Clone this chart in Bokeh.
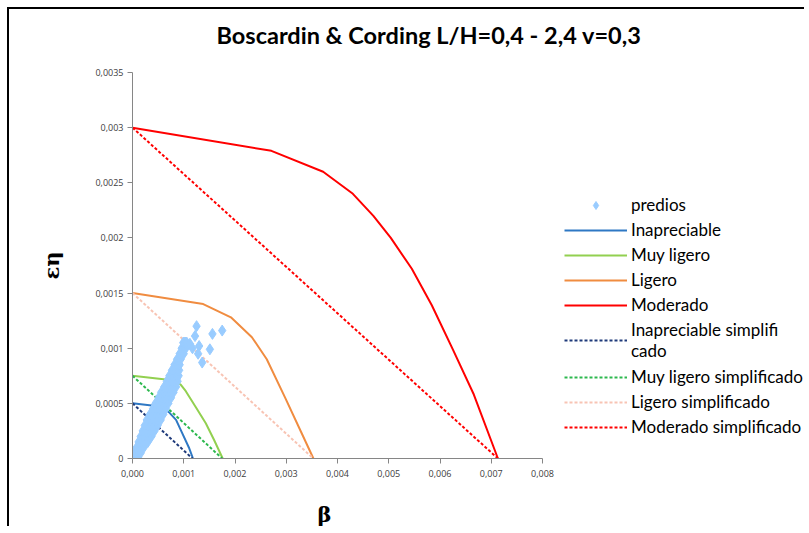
from bokeh.plotting import figure
from bokeh.models import Range1d, FixedTicker, Legend, LegendItem, Title
from bokeh.embed import file_html
from bokeh.resources import INLINE

title_text = "Boscardin & Cording L/H=0,4 - 2,4  v=0,3"
x_label = "β"
y_label = "εη"

x_ticks = [0.0, 0.001, 0.002, 0.003, 0.004, 0.005, 0.006, 0.007, 0.008]
x_tick_labels = ["0,000", "0,001", "0,002", "0,003", "0,004", "0,005", "0,006", "0,007", "0,008"]
y_ticks = [0.0, 0.0005, 0.001, 0.0015, 0.002, 0.0025, 0.003, 0.0035]
y_tick_labels = ["0", "0,0005", "0,001", "0,0015", "0,002", "0,0025", "0,003", "0,0035"]

# predios (values in units of 1e-5)
predios_x_e5 = [
    2, 5, 7, 10, 12,
    3, 6, 10, 13, 16,
    8, 12, 15, 19, 22,
    12, 17, 21, 26, 30,
    16, 21, 27, 32, 37,
    20, 26, 32, 37, 43,
    24, 30, 37, 43, 49,
    28, 35, 42, 48, 55,
    34, 41, 47, 54, 60,
    40, 46, 53, 59, 65,
    45, 51, 58, 64, 70,
    51, 57, 63, 69, 75,
    56, 62, 68, 74, 80,
    62, 68, 74, 79, 85,
    67, 72, 78, 83, 88,
    72, 77, 81, 86, 90,
    77, 81, 84, 88, 91,
    82, 85, 87, 90, 92,
    87, 89, 91, 92, 94,
    92, 94, 96, 98, 100,
    96, 98, 100, 102, 104,
    99, 101, 103, 104, 106,
    125, 122, 156, 175, 130, 151, 128, 136, 112, 117,
]
predios_y_e5 = [
    0, 0, 0, 0, 0,
    5, 5, 5, 5, 5,
    10, 10, 10, 10, 10,
    15, 15, 15, 15, 15,
    20, 20, 20, 20, 20,
    25, 25, 25, 25, 25,
    30, 30, 30, 30, 30,
    35, 35, 35, 35, 35,
    40, 40, 40, 40, 40,
    45, 45, 45, 45, 45,
    50, 50, 50, 50, 50,
    55, 55, 55, 55, 55,
    60, 60, 60, 60, 60,
    65, 65, 65, 65, 65,
    70, 70, 70, 70, 70,
    75, 75, 75, 75, 75,
    80, 80, 80, 80, 80,
    85, 85, 85, 85, 85,
    90, 90, 90, 90, 90,
    95, 95, 95, 95, 95,
    100, 100, 100, 100, 100,
    105, 105, 105, 105, 105,
    120, 111, 113, 116, 102, 99, 95, 87, 104, 100,
]

inap_x = [0.0, 0.00058, 0.00071, 0.00085, 0.00097, 0.0011, 0.00118]
inap_y = [0.0005, 0.00047, 0.00042, 0.00035, 0.00023, 0.0001, 0.0]

muy_x = [0.0, 0.00078, 0.00094, 0.00104, 0.00123, 0.00143, 0.00159, 0.00176]
muy_y = [0.00075, 0.00071, 0.00067, 0.00061, 0.00047, 0.00032, 0.00017, 0.0]

lig_x = [0.0, 0.00138, 0.00192, 0.00233, 0.00262, 0.00298, 0.00329, 0.00353]
lig_y = [0.0015, 0.0014, 0.00128, 0.0011, 0.0009, 0.00055, 0.00024, 0.0]

mod_x = [0.0, 0.00271, 0.00372, 0.0043, 0.0047, 0.00504, 0.00545, 0.00584, 0.00625, 0.00666, 0.00713]
mod_y = [0.003, 0.00279, 0.0026, 0.0024, 0.0022, 0.002, 0.00172, 0.00139, 0.00099, 0.00058, 0.0]

inap_s_x = [0.0, 0.00117]
inap_s_y = [0.0005, 0.0]
muy_s_x = [0.0, 0.00175]
muy_s_y = [0.00075, 0.0]
lig_s_x = [0.0, 0.00353]
lig_s_y = [0.0015, 0.0]
mod_s_x = [0.0, 0.00713]
mod_s_y = [0.003, 0.0]

legend_labels = ["predios", "Inapreciable", "Muy ligero", "Ligero", "Moderado",
                 "Inapreciable simplifi\ncado", "Muy ligero simplificado",
                 "Ligero simplificado", "Moderado simplificado"]

# the frame is widened to the right so that the legend sits inside it;
# the data axis itself covers 0..0.008 over 410 px
axis_px = 410
frame_px = 672
x_end = x_ticks[-1] * frame_px / axis_px

p = figure(frame_width=frame_px, frame_height=386, output_backend="svg", toolbar_location=None,
           x_range=Range1d(0, x_end), y_range=Range1d(0, y_ticks[-1]),
           min_border_left=123, min_border_right=0, min_border_top=63, min_border_bottom=0)
p.styles = {"border-left": "2px solid #000", "border-top": "2px solid #000",
            "margin-left": "7px", "margin-top": "7px"}
p.outline_line_color = None
p.xgrid.visible = False
p.ygrid.visible = False

# spacer between frame and title
p.add_layout(Title(text=" ", text_font_size="1px", standoff=21), "above")
p.title.text = title_text
p.title.align = "left"
p.title.offset = 84
p.title.text_font = "Lato"
p.title.text_font_size = "23.5px"
p.title.text_font_style = "bold"
p.title.text_color = "#000000"
p.title.standoff = 0

for ax in (p.xaxis[0], p.yaxis[0]):
    ax.axis_line_color = "#868686"
    ax.major_tick_line_color = "#868686"
    ax.minor_tick_line_color = None
    ax.major_tick_in = 0
    ax.major_tick_out = 5
    ax.major_label_text_font = "Open Sans"
    ax.major_label_text_font_size = "9px"
    ax.major_label_text_color = "#404040"

p.xaxis.bounds = (x_ticks[0], x_ticks[-1])
p.xaxis.ticker = FixedTicker(ticks=x_ticks)
p.xaxis.major_label_overrides = dict(zip(x_ticks, x_tick_labels))
p.yaxis.ticker = FixedTicker(ticks=y_ticks)
p.yaxis.major_label_overrides = dict(zip(y_ticks, y_tick_labels))
p.xaxis.major_label_standoff = 6
p.yaxis.major_label_standoff = 4
p.yaxis.axis_label = y_label
p.yaxis.axis_label_standoff = 28
p.yaxis.axis_label_text_font = "DejaVu Serif"
p.yaxis.axis_label_text_font_size = "21px"
p.yaxis.axis_label_text_font_style = "bold"
p.yaxis.axis_label_text_color = "#000000"

# spacer below the x axis, then the x axis title
p.add_layout(Title(text=" ", text_font_size="1px", standoff=17), "below")
xt = Title(text=x_label, align="left", offset=185, text_font="DejaVu Serif",
           text_font_size="21px", text_font_style="bold", text_color="#000000", standoff=0)
p.add_layout(xt, "below")

dash = "3 2"
r_inap = p.line(inap_x, inap_y, line_color="#2e78c4", line_width=2)
r_muy = p.line(muy_x, muy_y, line_color="#92d050", line_width=2)
r_lig = p.line(lig_x, lig_y, line_color="#f08c40", line_width=2)
r_mod = p.line(mod_x, mod_y, line_color="#ff0000", line_width=2)
r_inap_s = p.line(inap_s_x, inap_s_y, line_color="#1f3a7a", line_width=2, line_dash=dash)
r_muy_s = p.line(muy_s_x, muy_s_y, line_color="#2cb84e", line_width=2, line_dash=dash)
r_lig_s = p.line(lig_s_x, lig_s_y, line_color="#f8c4b4", line_width=2, line_dash=dash)
r_mod_s = p.line(mod_s_x, mod_s_y, line_color="#ff0000", line_width=2, line_dash=dash)

px = [v * 1e-5 for v in predios_x_e5]
py = [v * 1e-5 for v in predios_y_e5]
r_pred = p.scatter(px, py, marker="diamond", size=11, fill_color="#99ccff", line_color="#99ccff")

renderers = [r_pred, r_inap, r_muy, r_lig, r_mod, r_inap_s, r_muy_s, r_lig_s, r_mod_s]
items = [LegendItem(label=l, renderers=[r]) for l, r in zip(legend_labels, renderers)]
legend_style = dict(padding=0, margin=0, spacing=4,
                    glyph_width=63, glyph_height=20, label_height=21, label_standoff=4,
                    label_text_font="Lato", label_text_font_size="17px", label_text_color="#000000",
                    border_line_color=None, background_fill_alpha=0)
legend1 = Legend(items=items[:6], location=(432, 97), **legend_style)
legend2 = Legend(items=items[6:], location=(432, 21), **legend_style)
p.add_layout(legend1)
p.add_layout(legend2)

open("out.html", "w").write(file_html(p, INLINE))
